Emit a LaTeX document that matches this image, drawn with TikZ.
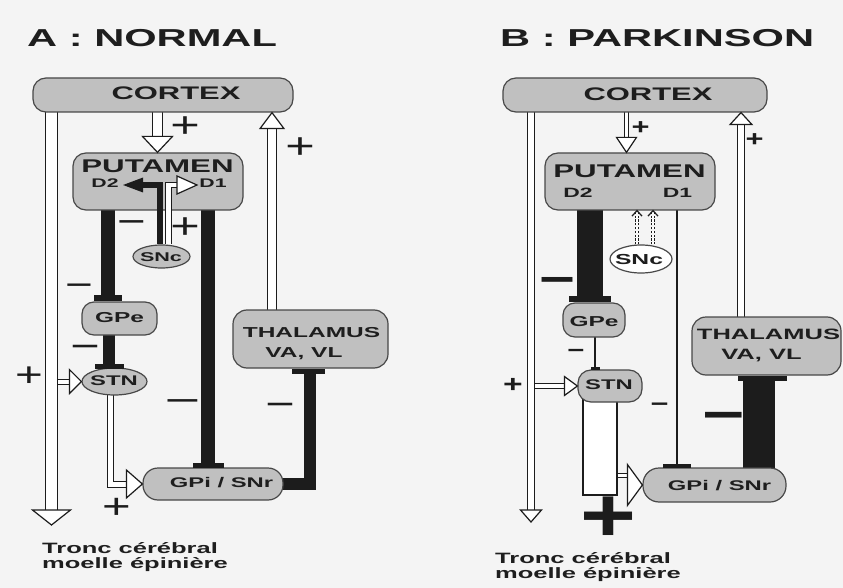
\documentclass[tikz,border=0pt]{standalone}
\usepackage{fontspec}
\usepackage{graphicx}
\usetikzlibrary{calc,shapes.geometric}
\newfontfamily\wfont[FakeStretch=1.7]{Liberation Sans}
\newfontfamily\sgfont[FakeStretch=1.4]{Liberation Sans}
\definecolor{bgc}{HTML}{F4F4F4}
\definecolor{boxg}{HTML}{C0C0C0}
\definecolor{boxl}{HTML}{484848}
\definecolor{blk}{HTML}{1C1C1C}
\definecolor{txtc}{HTML}{1E1E1E}
\pgfdeclarelayer{bgl}
\pgfsetlayers{bgl,main}
\tikzset{
  box/.style={draw=boxl, fill=boxg, line width=1.2pt, rounded corners=13pt, inner sep=0pt},
  ell/.style={ellipse, draw=boxl, fill=boxg, line width=1.2pt, inner sep=0pt},
  tx/.style={inner sep=0pt, text=txtc, font={\wfont\bfseries\fontsize{#1}{#1}\selectfont}},
  sg/.style={inner sep=0pt, text=blk, font={\sgfont\fontsize{#1}{#1}\selectfont}},
  sgb/.style={inner sep=0pt, text=blk, font={\sgfont\bfseries\fontsize{#1}{#1}\selectfont}},
  hollow/.style 2 args={draw=blk, line width=#1, double=white, double distance=#2},
  hd/.style={draw=blk, fill=white, line width=1.2pt, line join=miter},
  inh/.style={draw=blk, line width=#1},
  dsh/.style={draw=blk, line width=0.9pt, double=white, double distance=1.4pt, dash pattern=on 2.2pt off 1.6pt},
  chev/.style={draw=blk, line width=1.2pt},
}
\newcommand\hdD[3]{\draw[hd] ($(#1)+(-#2,-#3)$) -- (#1) -- ($(#1)+(#2,-#3)$) -- cycle;}
\newcommand\hdU[3]{\draw[hd] ($(#1)+(-#2,#3)$) -- (#1) -- ($(#1)+(#2,#3)$) -- cycle;}
\newcommand\hdR[3]{\draw[hd] ($(#1)+(-#3,-#2)$) -- (#1) -- ($(#1)+(-#3,#2)$) -- cycle;}
\begin{document}
\begin{tikzpicture}[x=1pt,y=-1pt]
\path[use as bounding box] (0,0) rectangle (843,588);
\begin{pgfonlayer}{bgl}
\fill[bgc] (0,0) rectangle (843,588);
\end{pgfonlayer}

% titles
\node[tx=24.5, anchor=base west] (titA) at (27,47) {A : NORMAL};
\node[tx=24.5, anchor=base west] (titB) at (500,47) {B : PARKINSON};

% ================= PANEL A nodes
\node[box, minimum width=260pt, minimum height=34pt] (cortexA) at (163,95) {};
\node[box, minimum width=170pt, minimum height=57pt] (putA) at (158,181.5) {};
\node[ell, minimum width=57pt, minimum height=23pt] (sncA) at (161.5,256.5) {};
\node[box, rounded corners=12pt, minimum width=75pt, minimum height=33pt] (gpeA) at (119.5,318.5) {};
\node[ell, minimum width=65pt, minimum height=27pt] (stnA) at (114.5,381.5) {};
\node[box, rounded corners=15pt, minimum width=140pt, minimum height=32pt] (gpiA) at (213,484) {};
\node[box, rounded corners=14pt, minimum width=155pt, minimum height=58pt] (thalA) at (310.5,339) {};

% ================= PANEL B nodes
\node[box, minimum width=264pt, minimum height=34pt] (cortexB) at (635,95) {};
\node[box, minimum width=170pt, minimum height=57pt] (putB) at (630,181.5) {};
\node[ell, fill=white, minimum width=62pt, minimum height=28pt] (sncB) at (641,259) {};
\node[box, rounded corners=12pt, minimum width=62pt, minimum height=34pt] (gpeB) at (594,320) {};
\node[box, minimum width=64pt, minimum height=32pt] (stnB) at (610,386) {};
\node[box, rounded corners=16pt, minimum width=143pt, minimum height=34pt] (gpiB) at (714.5,485) {};
\node[box, rounded corners=14pt, minimum width=149pt, minimum height=58pt] (thalB) at (766.5,346) {};

% ================= PANEL A connectors
\coordinate (xA1) at (51.5,0);  \coordinate (tA1) at (51.5,525);
\coordinate (xA2) at (157.5,0); \coordinate (tA2) at (xA2 |- putA.north);
\coordinate (xA3) at (272,0);   \coordinate (tA3) at (xA3 |- cortexA.south);
\coordinate (yA4) at (xA1 |- stnA.west); \coordinate (tA4) at (stnA.west);
\coordinate (xA5) at (110.5,0); \coordinate (tA5) at (gpiA.west);
\coordinate (xA6) at (160,0);   \coordinate (tA6) at (123,185);
\coordinate (xA7) at (168.5,0); \coordinate (tA7) at (197,185);
\coordinate (xA8) at (108,0);   \coordinate (tA8) at (xA8 |- gpeA.north);
\coordinate (xA9) at (109,0);   \coordinate (tA9) at (xA9 |- stnA.north);
\coordinate (xA10) at (208,0);  \coordinate (tA10) at (xA10 |- gpiA.north);
\coordinate (xA11) at (309.5,0);\coordinate (tA11) at (xA11 |- thalA.south);

\begin{pgfonlayer}{bgl}
\draw[hollow={1.2pt}{10.6pt}] (xA1 |- cortexA.center) -- ($(tA1)+(0,-15)$);
\draw[hollow={1.2pt}{8.6pt}] (xA2 |- cortexA.center) -- ($(tA2)+(0,-16)$);
\draw[hollow={1.2pt}{7.6pt}] (xA3 |- thalA.center) -- ($(tA3)+(0,16)$);
\draw[hollow={1pt}{4pt}] ($(yA4)+(6.5,0)$) -- ($(tA4)+(-12,0)$);
\draw[hollow={1pt}{5pt}] (xA5 |- stnA.center) -- (xA5 |- gpiA.west) -- ($(tA5)+(-16,0)$);
\draw[inh=14pt] (xA8 |- putA.center) -- (tA8);
\draw[inh=12pt] (xA9 |- gpeA.center) -- (tA9);
\draw[inh=14pt] (xA10 |- putA.center) -- (tA10);
\draw[inh=12pt] (gpiA.center) -- (xA11 |- gpiA.center) -- (tA11);
\end{pgfonlayer}

\hdD{tA1}{19}{15}
\hdD{tA2}{15}{16}
\hdU{tA3}{12}{16}
\hdR{tA4}{12}{12}
\hdR{tA5}{14}{16}
\draw[inh=6pt] (xA6 |- sncA.north) -- (xA6 |- tA6) -- ($(tA6)+(20,0)$);
\fill[blk] ($(tA6)+(20,-7.5)$) -- (tA6) -- ($(tA6)+(20,7.5)$) -- cycle;
\draw[hollow={1pt}{4.5pt}] (xA7 |- sncA.north) -- (xA7 |- tA7) -- ($(tA7)+(-20,0)$);
\hdR{tA7}{9}{20}
\fill[blk] ($(tA8)+(-14,-6)$) rectangle ($(tA8)+(14,0)$);
\fill[blk] ($(tA9)+(-14.5,-3)$) rectangle ($(tA9)+(14.5,2)$);
\fill[blk] ($(tA10)+(-15.5,-4)$) rectangle ($(tA10)+(15.5,1)$);
\fill[blk] ($(tA11)+(-17.5,0)$) rectangle ($(tA11)+(15.5,5)$);

% ================= PANEL B connectors
\coordinate (xB1) at (531,0);   \coordinate (tB1) at (531,522);
\coordinate (xB2) at (626.5,0); \coordinate (tB2) at (xB2 |- putB.north);
\coordinate (xB3) at (741,0);   \coordinate (tB3) at (xB3 |- cortexB.south);
\coordinate (yB4) at (xB1 |- stnB.west); \coordinate (tB4) at (stnB.west);
\coordinate (xB5) at (583,0);   \coordinate (cB5) at (617,495);
\coordinate (sB5) at (617.6,475); \coordinate (tB5) at (gpiB.west);
\coordinate (xB6) at (590,0);   \coordinate (tB6) at (xB6 |- gpeB.north);
\coordinate (xB7) at (637,0);   \coordinate (tB7) at (xB7 |- putB.south);
\coordinate (xB7b) at (653,0);  \coordinate (tB7b) at (xB7b |- putB.south);
\coordinate (xB8) at (677,0);   \coordinate (tB8) at (xB8 |- gpiB.north);
\coordinate (xB9) at (759,0);   \coordinate (tB9) at (xB9 |- thalB.south);
\coordinate (xB10) at (595,0);  \coordinate (tB10) at (xB10 |- stnB.north);

\begin{pgfonlayer}{bgl}
\draw[hollow={1.2pt}{5.6pt}] (xB1 |- cortexB.center) -- ($(tB1)+(0,-12)$);
\draw[hollow={1pt}{3.5pt}] (xB2 |- cortexB.center) -- ($(tB2)+(0,-15)$);
\draw[hollow={1.2pt}{5.6pt}] (xB3 |- thalB.center) -- ($(tB3)+(0,12)$);
\draw[hollow={1pt}{4pt}] ($(yB4)+(4,0)$) -- ($(tB4)+(-13,0)$);
\draw[draw=blk, line width=1.2pt, fill=white] (xB5 |- stnB.center) rectangle (cB5);
\draw[inh=26pt] (xB6 |- putB.center) -- (tB6);
\draw[inh=2.8pt] (xB8 |- putB.center) -- (tB8);
\draw[inh=32pt] (xB9 |- gpiB.center) -- (tB9);
\draw[inh=2.5pt] (xB10 |- gpeB.center) -- (tB10);
\end{pgfonlayer}

\hdD{tB1}{10.5}{12}
\hdD{tB2}{10}{15}
\hdU{tB3}{11}{12}
\hdR{tB4}{9.5}{13}
\draw[hollow={1pt}{3pt}] (sB5) -- ($(tB5)+(-15,-10)$);
\hdR{tB5}{20.5}{15}
\fill[blk] ($(tB6)+(-21,-6)$) rectangle ($(tB6)+(21,0)$);
\draw[dsh] (xB7 |- sncB.north) -- ($(tB7)+(0,1.5)$);
\draw[chev] ($(tB7)+(-5,5.5)$) -- (tB7) -- ($(tB7)+(5,5.5)$);
\draw[dsh] (xB7b |- sncB.north) -- ($(tB7b)+(0,1.5)$);
\draw[chev] ($(tB7b)+(-5,5.5)$) -- (tB7b) -- ($(tB7b)+(5,5.5)$);
\fill[blk] ($(tB8)+(-14,-3)$) rectangle ($(tB8)+(14,0.5)$);
\fill[blk] ($(tB9)+(-21,0)$) rectangle ($(tB9)+(28,5)$);
\fill[blk] ($(tB10)+(-4.5,-2)$) rectangle ($(tB10)+(4.5,1)$);

% ================= texts A
\node[tx=18.2] (cortexAt) at (176,93.5) {CORTEX};
\node[tx=18.4] (putAt) at (157.5,166) {PUTAMEN};
\node[tx=12.5] (d2A) at (105,183) {D2};
\node[tx=12.5] (d1A) at (213,183) {D1};
\node[tx=12.7] (sncAt) at (161,257) {SNc};
\node[tx=14.4] (gpeAt) at (119.5,318) {GPe};
\node[tx=14] (stnAt) at (114,381) {STN};
\node[tx=14, anchor=base] (gpiAt) at (221.5,487) {GPi / SNr};
\node[tx=14.4] (thalAt) at (311.5,333) {THALAMUS};
\node[tx=14.4, anchor=base] (vaAt) at (304,357) {VA, VL};
\node[tx=15, anchor=north west, align=left] (troncA) at (42,542) {Tronc cérébral\\moelle épinière};

% ================= texts B
\node[tx=18.2] (cortexBt) at (648,94.5) {CORTEX};
\node[tx=18.4] (putBt) at (629.5,171.5) {PUTAMEN};
\node[tx=13.5] (d2B) at (578,192.5) {D2};
\node[tx=13.5] (d1B) at (677.5,192.5) {D1};
\node[tx=14.5] (sncBt) at (639,260) {SNc};
\node[tx=14.4] (gpeBt) at (594,322) {GPe};
\node[tx=14] (stnBt) at (609,384.5) {STN};
\node[tx=14, anchor=base] (gpiBt) at (719.5,490) {GPi / SNr};
\node[tx=15] (thalBt) at (768.5,334.5) {THALAMUS};
\node[tx=15, anchor=base] (vaBt) at (761.5,359) {VA, VL};
\node[tx=15, anchor=north west, align=left] (troncB) at (495,552) {Tronc cérébral\\moelle épinière};

% ================= signs A
\node[sg=36] (pA1) at (185,127) {+};
\node[sg=36] (pA2) at (300,148) {+};
\node[sg=35] (mA1) at (131.5,227) {−};
\node[sg=36] (pA3) at (185,228) {+};
\node[sg=34] (mA2) at (79,290) {−};
\node[sg=36] (mA3) at (85,352) {−};
\node[sg=34] (pA4) at (29,377) {+};
\node[sg=35] (mA4) at (182.5,406) {\scalebox{1.25}[1]{−}};
\node[sg=36] (mA5) at (280,410) {−};
\node[sg=35] (pA5) at (116.5,508) {+};

% ================= signs B
\node[sgb=22] (pB1) at (640.5,128.5) {+};
\node[sgb=22] (pB2) at (754.5,140) {+};
\node[sgb=44] (mB1) at (557.5,286) {−};
\node[sgb=21] (mB2) at (576,353) {−};
\node[sgb=24] (pB3) at (513,385.5) {+};
\node[sgb=22] (mB3) at (659.5,407) {−};
\node[sgb=52] (mB4) at (724,422) {−};
\node[sgb=76] (pB4) at (608.5,519) {\scalebox{0.9}[1]{+}};
\end{tikzpicture}
\end{document}
